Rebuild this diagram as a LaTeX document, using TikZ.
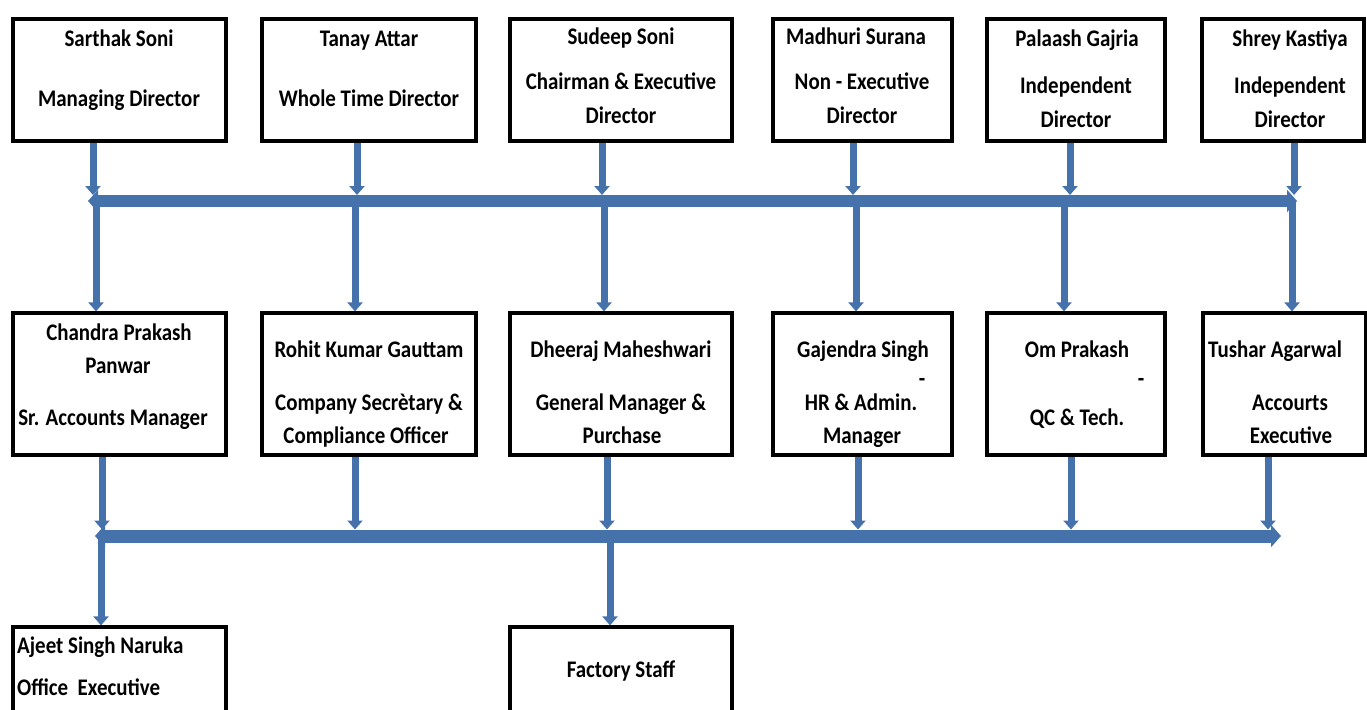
\documentclass[tikz,border=0pt]{standalone}
\usepackage{fontspec}
\setmainfont{Carlito}[FakeStretch=0.88]
\usetikzlibrary{arrows.meta}
\definecolor{linkblue}{RGB}{70,114,172}

\begin{document}
\begin{tikzpicture}[x=1pt,y=-1pt,
  post/.style={draw, line width=3.2pt, inner sep=0pt},
  txt/.style={inner sep=0pt, anchor=base, font=\bfseries\fontsize{23.8}{28}\selectfont},
  feed/.style={draw=linkblue, line width=7pt, -{Triangle[width=15pt,length=9pt]}},
  bus/.style={draw=linkblue, line width=12pt,
    {Triangle[width=22pt,length=10pt]}-{Triangle[width=22pt,length=10pt]}}]
  \useasboundingbox (0,0) rectangle (1367,709);

  % board of directors
  \foreach \n/\l/\r in {sarthak/13/226, tanay/262/476, sudeep/510/732,
      madhuri/773/952, palaash/987/1165, shrey/1202/1364}
    \node[post, minimum width=\r-\l, minimum height=122] (\n) at ({(\l+\r)/2},80) {};
  % officers
  \foreach \n/\l/\r in {chandra/13/226, rohit/262/476, dheeraj/510/732,
      gajendra/773/952, om/987/1165, tushar/1203/1366}
    \node[post, minimum width=\r-\l, minimum height=142] (\n) at ({(\l+\r)/2},384) {};
  % staff
  \node[post, minimum width=213, minimum height=150] (ajeet) at (119.5,702) {};
  \node[post, minimum width=222, minimum height=150] (factory) at (621,702) {};

  \node[txt] (sarthak-a) at (119,47) {Sarthak Soni};
  \node[txt] (sarthak-b) at (119,106) {Managing Director};
  \node[txt] (tanay-a) at (369,47) {Tanay Attar};
  \node[txt] (tanay-b) at (369,106) {Whole Time Director};
  \node[txt] (sudeep-a) at (621,45) {Sudeep Soni};
  \node[txt] (sudeep-b) at (621,89) {Chairman \& Executive};
  \node[txt] (sudeep-c) at (621,123) {Director};
  \node[txt] (madhuri-a) at (856,45) {Madhuri Surana};
  \node[txt] (madhuri-b) at (862,89) {Non - Executive};
  \node[txt] (madhuri-c) at (862,123) {Director};
  \node[txt] (palaash-a) at (1077,47) {Palaash Gajria};
  \node[txt] (palaash-b) at (1076,93) {Independent};
  \node[txt] (palaash-c) at (1076,127) {Director};
  \node[txt] (shrey-a) at (1290,47) {Shrey Kastiya};
  \node[txt] (shrey-b) at (1290,93) {Independent};
  \node[txt] (shrey-c) at (1290,127) {Director};

  \node[txt] (chandra-a) at (119,340) {Chandra Prakash};
  \node[txt] (chandra-b) at (118,373) {Panwar};
  \node[txt] (chandra-c) at (113,425) {Sr. Accounts Manager};
  \node[txt] (rohit-a) at (369,357) {Rohit Kumar Gauttam};
  \node[txt] (rohit-b) at (369,410) {Company Secrètary \&};
  \node[txt] (rohit-c) at (366,443) {Compliance Officer};
  \node[txt] (dheeraj-a) at (621,357) {Dheeraj Maheshwari};
  \node[txt] (dheeraj-b) at (621,410) {General Manager \&};
  \node[txt] (dheeraj-c) at (622,443) {Purchase};
  \node[txt] (gajendra-a) at (863,357) {Gajendra Singh};
  \node[txt] (gajendra-d) at (922,386) {-};
  \node[txt] (gajendra-b) at (861,410) {HR \& Admin.};
  \node[txt] (gajendra-c) at (862,443) {Manager};
  \node[txt] (om-a) at (1077,357) {Om Prakash};
  \node[txt] (om-d) at (1141,386) {-};
  \node[txt] (om-b) at (1077,425) {QC \& Tech.};
  \node[txt, anchor=base west] (tushar-a) at (1208,357) {Tushar Agarwal};
  \node[txt] (tushar-b) at (1290,410) {Accourts};
  \node[txt] (tushar-c) at (1291,443) {Executive};

  \node[txt, anchor=base west] (ajeet-a) at (17,653) {Ajeet Singh Naruka};
  \node[txt, anchor=base west] (ajeet-b) at (17,695) {Office~ Executive};
  \node[txt] (factory-a) at (621,677) {Factory Staff};

  % the two lines
  \coordinate (boardL) at (88,201);
  \coordinate (boardR) at (1297,201);
  \coordinate (staffL) at (95,536);
  \coordinate (staffR) at (1281,536);

  \foreach \n/\x in {sarthak/93, tanay/357, sudeep/602, madhuri/853, palaash/1070, shrey/1294}
    \draw[feed, shorten >=6pt] (\n.south -| \x,0) -- (\x,0 |- boardL);
  \foreach \n/\x in {chandra/96, rohit/355, dheeraj/604, gajendra/856, om/1064, tushar/1292}
    \draw[feed] (\x,0 |- boardL) -- (\n.north -| \x,0);
  \foreach \n/\x in {chandra/102, rohit/355, dheeraj/607, gajendra/858, om/1071, tushar/1268}
    \draw[feed, shorten >=6.5pt] (\n.south -| \x,0) -- (\x,0 |- staffL);
  \foreach \n/\x in {ajeet/101, factory/610}
    \draw[feed] (\x,0 |- staffL) -- (\n.north -| \x,0);

  \draw[bus] (boardL) -- (boardR);
  \draw[bus, line width=13pt] (staffL) -- (staffR);
\end{tikzpicture}
\end{document}
